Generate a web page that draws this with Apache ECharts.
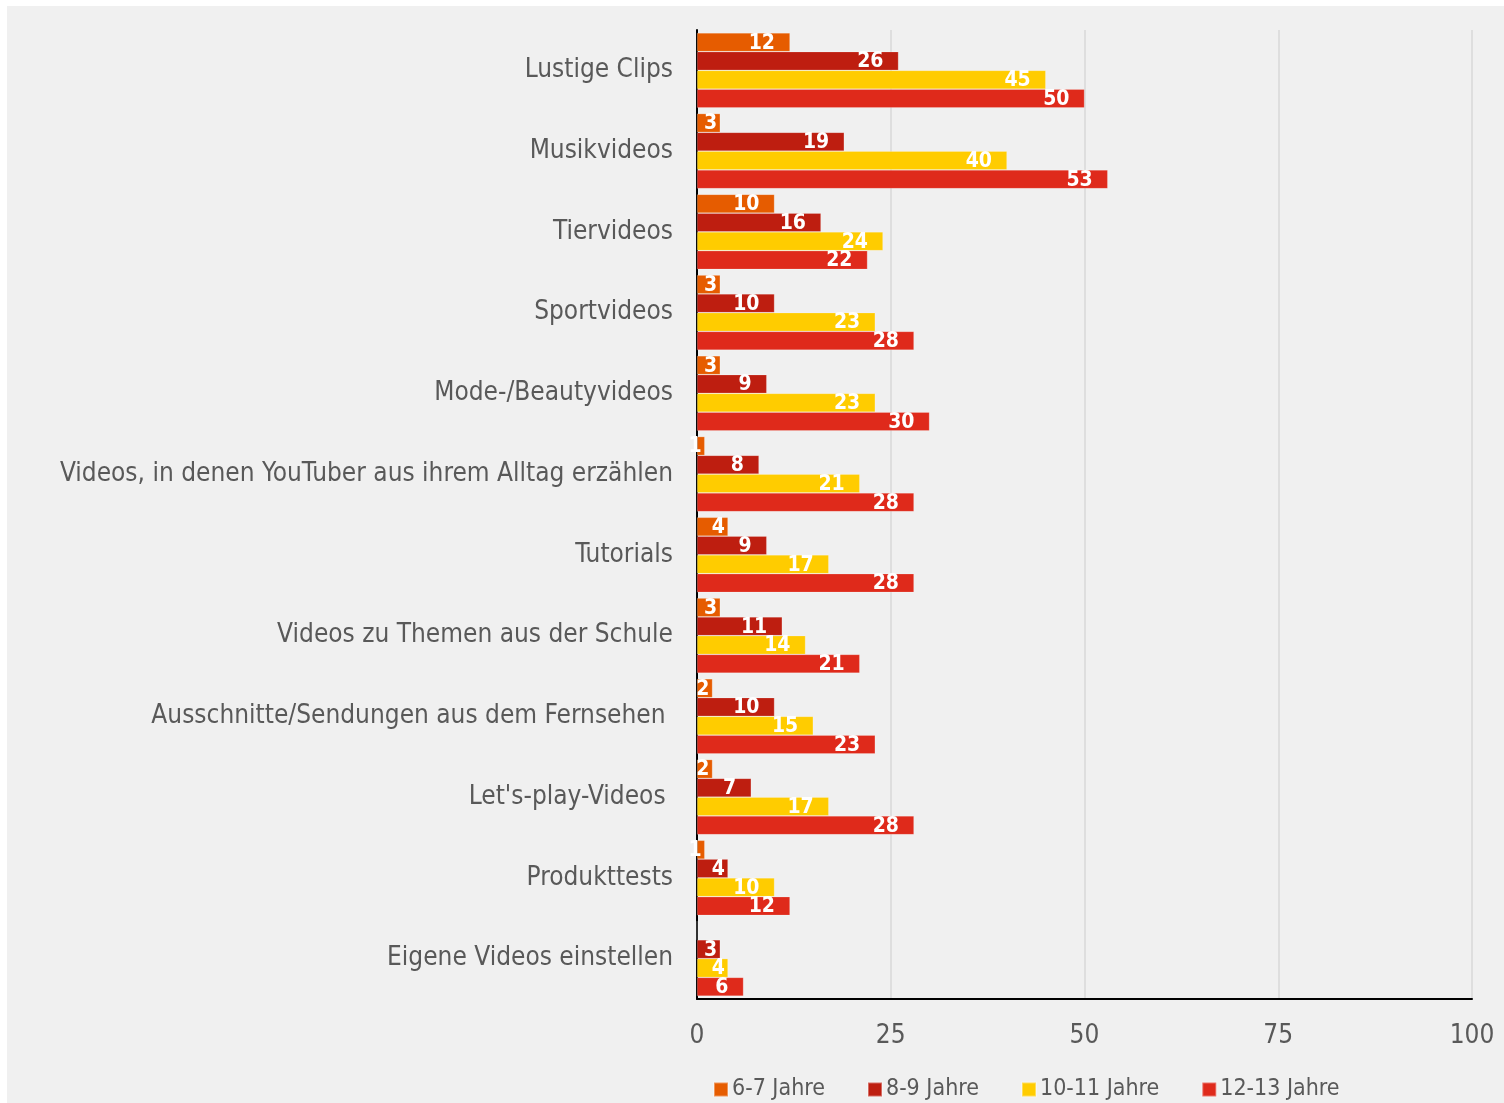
<!DOCTYPE html>
<html>
<head>
<meta charset="utf-8">
<script src="https://cdn.jsdelivr.net/npm/echarts@6/dist/echarts.min.js"></script>
<style>
  html, body { margin: 0; padding: 0; background: #ffffff; }
  #chart { position: absolute; left: 0; top: 0; width: 1504px; height: 1103px; }
</style>
</head>
<body>
<div id="chart"></div>
<script>
// Video genres watched on YouTube, share (%) by age group
const categories = [
  'Lustige Clips',
  'Musikvideos',
  'Tiervideos',
  'Sportvideos',
  'Mode-/Beautyvideos',
  'Videos, in denen YouTuber aus ihrem Alltag erzählen',
  'Tutorials',
  'Videos zu Themen aus der Schule',
  'Ausschnitte/Sendungen aus dem Fernsehen ',
  "Let's-play-Videos ",
  'Produkttests',
  'Eigene Videos einstellen'
];
const seriesNames = ['6-7 Jahre', '8-9 Jahre', '10-11 Jahre', '12-13 Jahre'];
const age6to7   = [12, 3, 10, 3, 3, 1, 4, 3, 2, 2, 1, 0];
const age8to9   = [26, 19, 16, 10, 9, 8, 9, 11, 10, 7, 4, 3];
const age10to11 = [45, 40, 24, 23, 23, 21, 17, 14, 15, 17, 10, 4];
const age12to13 = [50, 53, 22, 28, 30, 28, 28, 21, 23, 28, 12, 6];
const xTicks = [0, 25, 50, 75, 100];

const colors = ['#e65c00', '#be1e10', '#ffcc00', '#df2a1b'];
const FONT = '"Liberation Sans Narrow", "DejaVu Sans Condensed", sans-serif';

function buildData(values) {
  return values.map(v => {
    if (v === 0) return { value: v, label: { show: false } };
    if (v < 5) return { value: v, label: { distance: 3 } };
    return v;
  });
}

const allSeries = [age6to7, age8to9, age10to11, age12to13].map((vals, i) => ({
  name: seriesNames[i],
  type: 'bar',
  data: buildData(vals),
  barGap: '0%',
  barCategoryGap: '7%',
  itemStyle: { color: colors[i], borderColor: 'rgba(255,255,255,0.35)', borderWidth: 0.6 },
  label: {
    show: true,
    position: 'insideRight',
    distance: 15,
    color: '#ffffff',
    fontFamily: FONT,
    fontWeight: 'bold',
    fontSize: 21,
    offset: [0, 1]
  }
}));

const chart = echarts.init(document.getElementById('chart'), null, { renderer: 'canvas' });
chart.setOption({
  animation: false,
  backgroundColor: '#ffffff',
  graphic: [{
    type: 'rect',
    z: -10,
    shape: { x: 7, y: 6, width: 1497, height: 1097 },
    style: { fill: '#f0f0f0' }
  }],
  grid: { left: 697, right: 32, top: 30, bottom: 104, containLabel: false },
  legend: {
    top: 1073,
    left: 708,
    itemWidth: 14,
    itemHeight: 14,
    itemGap: 42,
    icon: 'rect',
    textStyle: { color: '#595959', fontFamily: FONT, fontSize: 23, padding: [0, 0, 0, -1] },
    data: seriesNames
  },
  xAxis: {
    type: 'value',
    min: xTicks[0],
    max: xTicks[xTicks.length - 1],
    interval: 25,
    axisLine: { show: true, lineStyle: { color: '#000000', width: 2 } },
    axisTick: { show: false },
    axisLabel: { color: '#595959', fontFamily: FONT, fontSize: 26, margin: 24 },
    splitLine: { show: true, lineStyle: { color: '#d9d9d9', width: 1.5 } }
  },
  yAxis: {
    type: 'category',
    inverse: true,
    data: categories,
    axisLine: { show: true, lineStyle: { color: '#000000', width: 2 } },
    axisTick: { show: false },
    axisLabel: { color: '#595959', fontFamily: FONT, fontSize: 26, margin: 24 }
  },
  series: allSeries
});
</script>
</body>
</html>
